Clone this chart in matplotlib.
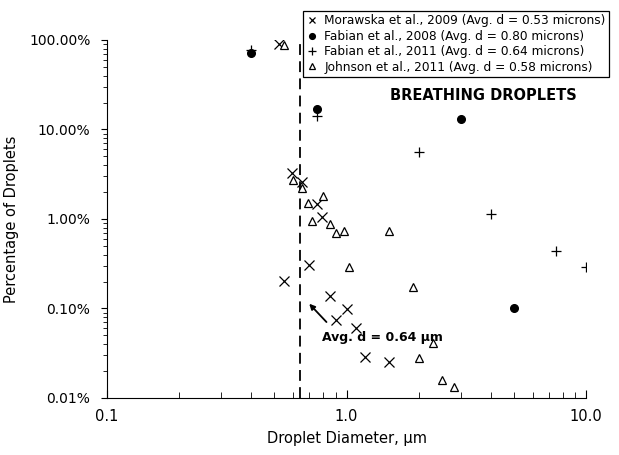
import numpy as np
import matplotlib
matplotlib.use("Agg")
import matplotlib.pyplot as plt
from matplotlib.ticker import FuncFormatter, LogLocator, NullFormatter

###############################################################################
# Data (diameter in microns, percentage of droplets)
morawska_d = [0.52, 0.59, 0.65, 0.75, 0.79, 0.70, 0.55, 0.85, 1.0, 0.90, 1.10, 1.20, 1.50]
morawska_p = [90.0, 3.3, 2.6, 1.47, 1.05, 0.31, 0.205, 0.139, 0.098, 0.074, 0.060, 0.029, 0.025]

fabian08_d = [0.40, 0.75, 3.0, 5.0]
fabian08_p = [71.0, 17.0, 13.0, 0.10]

fabian11_d = [0.40, 0.75, 2.0, 4.0, 7.5, 10.0]
fabian11_p = [78.0, 14.0, 5.6, 1.13, 0.44, 0.29]

johnson_d = [0.55, 0.60, 0.65, 0.69, 0.80, 0.72, 0.85, 0.90, 0.98, 1.02, 1.50, 1.90, 2.30, 2.00, 2.50, 2.80]
johnson_p = [88.0, 2.7, 2.2, 1.5, 1.8, 0.96, 0.89, 0.69, 0.74, 0.29, 0.74, 0.175, 0.041, 0.028, 0.016, 0.0134]

legend_labels = [
    "Morawska et al., 2009 (Avg. d = 0.53 microns)",
    "Fabian et al., 2008 (Avg. d = 0.80 microns)",
    "Fabian et al., 2011 (Avg. d = 0.64 microns)",
    "Johnson et al., 2011 (Avg. d = 0.58 microns)",
]

avg_d = 0.64

###############################################################################
fig = plt.figure(figsize=(6.19, 4.55), dpi=100)
ax = fig.add_axes([0.1729, 0.1253, 0.7738, 0.7868])

ax.plot(morawska_d, morawska_p, "x", color="black", ms=6.5, mew=0.9, label=legend_labels[0])
ax.plot(fabian08_d, fabian08_p, "o", color="black", ms=5.5, label=legend_labels[1])
ax.plot(fabian11_d, fabian11_p, "+", color="black", ms=7, mew=0.9, label=legend_labels[2])
ax.plot(johnson_d, johnson_p, "^", mfc="white", mec="black", ms=6, mew=0.9, label=legend_labels[3])

ax.axvline(avg_d, color="black", lw=1.3, ls=(0, (6, 3.5)), zorder=0)

ax.set_xscale("log")
ax.set_yscale("log")
ax.set_xlim(0.1, 10)
ax.set_ylim(0.01, 100)

# axis styling (Excel-ish)
for s in ["top", "right"]:
    ax.spines[s].set_visible(False)
ax.xaxis.set_major_formatter(FuncFormatter(lambda v, p: f"{v:.1f}"))
ax.xaxis.set_minor_formatter(NullFormatter())
ax.yaxis.set_major_formatter(FuncFormatter(lambda v, p: f"{v:.2f}%"))
ax.yaxis.set_minor_locator(LogLocator(subs=np.arange(2, 10)))
ax.yaxis.set_minor_formatter(NullFormatter())
ax.tick_params(axis="x", which="major", direction="in", length=6, labelsize=10.5, pad=8)
ax.tick_params(axis="x", which="minor", direction="in", length=4)
ax.tick_params(axis="y", which="major", direction="out", length=4, labelsize=10, pad=8)
ax.tick_params(axis="y", which="minor", direction="out", length=3)

ax.set_xlabel("Droplet Diameter, \u03bcm", fontsize=10.5, labelpad=5)
ax.set_ylabel("Percentage of Droplets", fontsize=10.5, labelpad=7)

ax.text(3.72, 24.0, "BREATHING DROPLETS", fontsize=10.5, fontweight="bold", ha="center", va="center")
ax.annotate("", xy=(0.686, 0.119), xytext=(0.84, 0.067),
            arrowprops=dict(arrowstyle="-|>", color="black", lw=1.3, mutation_scale=8))
ax.text(0.787, 0.048, "Avg. d = 0.64 \u03bcm", fontsize=9, fontweight="bold", ha="left", va="center")

leg = fig.legend(loc="upper left", bbox_to_anchor=(0.49, 0.975), fontsize=8.7,
                 frameon=True, fancybox=False, edgecolor="black", framealpha=1,
                 handlelength=1.0, handletextpad=0.5, borderpad=0.25, labelspacing=0.2,
                 borderaxespad=0, markerscale=0.75)
leg.get_frame().set_linewidth(0.9)

fig.savefig("out.png", dpi=100)
